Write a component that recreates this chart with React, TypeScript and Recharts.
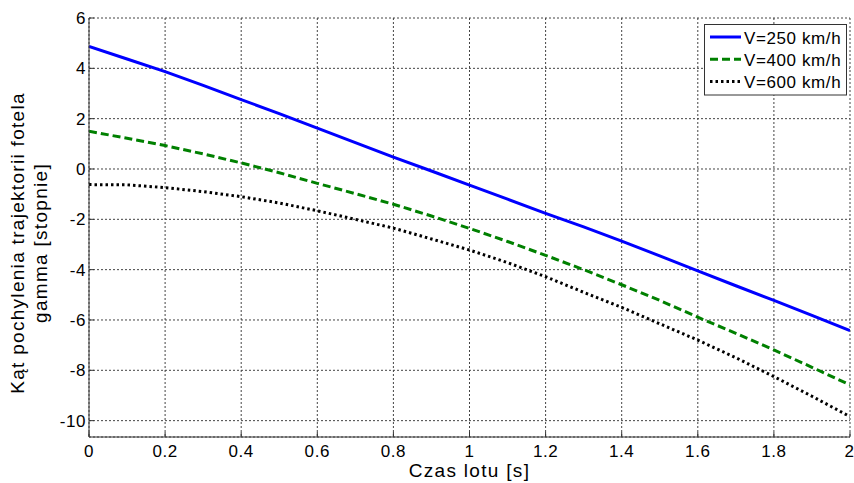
import React from "react";
import {
  LineChart,
  Line,
  XAxis,
  YAxis,
  CartesianGrid,
} from "recharts";

const time = [0, 0.1, 0.2, 0.3, 0.4, 0.5, 0.6, 0.7, 0.8, 0.9, 1.0, 1.1, 1.2, 1.3, 1.4, 1.5, 1.6, 1.7, 1.8, 1.9, 2.0];
const v250 = [4.87, 4.37, 3.87, 3.32, 2.76, 2.2, 1.62, 1.05, 0.47, -0.08, -0.64, -1.2, -1.76, -2.3, -2.87, -3.45, -4.05, -4.64, -5.22, -5.82, -6.42];
const v400 = [1.5, 1.22, 0.93, 0.6, 0.24, -0.15, -0.57, -0.98, -1.4, -1.87, -2.36, -2.88, -3.43, -4.0, -4.6, -5.22, -5.89, -6.53, -7.19, -7.88, -8.58];
const v600 = [-0.62, -0.63, -0.74, -0.9, -1.1, -1.35, -1.66, -2.0, -2.35, -2.78, -3.22, -3.72, -4.28, -4.9, -5.5, -6.15, -6.8, -7.5, -8.25, -9.03, -9.84];

const xTicks = [0, 0.2, 0.4, 0.6, 0.8, 1, 1.2, 1.4, 1.6, 1.8, 2];
const yTicks = [-10, -8, -6, -4, -2, 0, 2, 4, 6];
const seriesNames = ["V=250 km/h", "V=400 km/h", "V=600 km/h"];
const xLabel = "Czas lotu [s]";
const yLabel1 = "Kąt pochylenia trajektorii fotela";
const yLabel2 = "gamma [stopnie]";

const data = time.map((t, i) => ({ t, a: v250[i], b: v400[i], c: v600[i] }));

const FONT = "'Liberation Sans', Arial, sans-serif";
const TICK_STYLE = { fill: "#000", fontFamily: FONT, fontSize: 17, letterSpacing: 0.6 };

const legendItems = [
  { name: seriesNames[0], color: "#0000ff", dash: undefined as string | undefined },
  { name: seriesNames[1], color: "#008000", dash: "8 4" },
  { name: seriesNames[2], color: "#000000", dash: "2.5 3" },
];

const LegendBox = () => (
  <svg width={854} height={483} style={{ position: "absolute", left: 0, top: 0, pointerEvents: "none" }}>
    <rect x={704.5} y={24.5} width={142} height={70.5} fill="#fff" stroke="#333" strokeWidth={1} />
    {legendItems.map((it, i) => (
      <g key={it.name}>
        <line x1={710} x2={741} y1={37 + i * 22.3} y2={37 + i * 22.3} stroke={it.color} strokeWidth={3} strokeDasharray={it.dash} />
        <text x={744} y={43.5 + i * 22.3} fontFamily={FONT} fontSize={17} letterSpacing={0.6} fill="#000">
          {it.name}
        </text>
      </g>
    ))}
  </svg>
);

const YLabel = (props: any) => {
  const cy = 243;
  return (
    <g>
      <text x={23.5} y={cy} transform={`rotate(-90, 23.5, ${cy})`} textAnchor="middle" fontFamily={FONT} fontSize={19} letterSpacing={1.3} fill="#000">
        {yLabel1}
      </text>
      <text x={46.5} y={cy} transform={`rotate(-90, 46.5, ${cy})`} textAnchor="middle" fontFamily={FONT} fontSize={19} letterSpacing={1.3} fill="#000">
        {yLabel2}
      </text>
    </g>
  );
};

const XLabel = (props: any) => (
  <text x={469.5} y={477} textAnchor="middle" fontFamily={FONT} fontSize={19} letterSpacing={1.3} fill="#000">
    {xLabel}
  </text>
);

const Empty = () => <g />;

export default function App() {
  return (
    <div style={{ position: "absolute", left: 0, top: 0, width: 854, height: 483, background: "#fff" }}>
      <LineChart width={854} height={483} data={data} margin={{ top: 18, right: 4, bottom: 0, left: 0 }}>
        <CartesianGrid stroke="#444" strokeDasharray="2 2" strokeWidth={1} />
        <XAxis
          dataKey="t"
          type="number"
          domain={[0, 2]}
          ticks={xTicks}
          height={46}
          tickSize={-5}
          tickMargin={12.6}
          stroke="#333"
          tick={TICK_STYLE}
          label={<XLabel />}
          allowDataOverflow
        />
        <XAxis
          xAxisId="top"
          orientation="top"
          dataKey="t"
          type="number"
          domain={[0, 2]}
          ticks={xTicks}
          height={0}
          tickSize={-5}
          stroke="#333"
          tick={<Empty />}
          allowDataOverflow
        />
        <YAxis
          type="number"
          domain={[-10.65, 6]}
          ticks={yTicks}
          width={89}
          tickSize={-5}
          tickMargin={8}
          stroke="#333"
          tick={TICK_STYLE}
          label={<YLabel />}
          allowDataOverflow
        />
        <YAxis
          yAxisId="right"
          orientation="right"
          type="number"
          domain={[-10.65, 6]}
          ticks={yTicks}
          width={0}
          tickSize={-5}
          stroke="#333"
          tick={<Empty />}
          allowDataOverflow
        />
        <Line type="linear" dataKey="a" stroke="#0000ff" strokeWidth={3} dot={false} isAnimationActive={false} />
        <Line type="linear" dataKey="b" stroke="#008000" strokeWidth={3} strokeDasharray="8 4" dot={false} isAnimationActive={false} />
        <Line type="linear" dataKey="c" stroke="#000000" strokeWidth={3} strokeDasharray="2.5 3" dot={false} isAnimationActive={false} />
      </LineChart>
      <LegendBox />
    </div>
  );
}
